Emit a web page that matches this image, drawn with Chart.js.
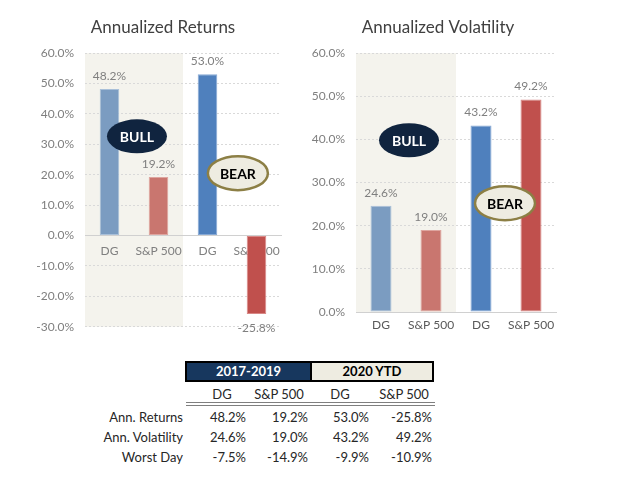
<!DOCTYPE html>
<html>
<head>
<meta charset="utf-8">
<script src="https://cdn.jsdelivr.net/npm/chart.js@4"></script>
<style>
  html, body { margin: 0; padding: 0; background: #ffffff; }
  body { width: 622px; height: 486px; position: relative; overflow: hidden; font-family: Lato, "Open Sans", sans-serif; }
  canvas { position: absolute; top: 0; }
  #c1 { left: 0; }
  #c2 { left: 300px; }
  .t { position: absolute; font-size: 13px; color: #262626; white-space: nowrap; line-height: 16px; }
  .hdr { position: absolute; top: 361px; height: 21px; box-sizing: border-box; border: 2px solid #000; font-weight: bold; font-size: 13px; line-height: 17px; text-align: center; }
  .dbl { position: absolute; left: 186px; width: 249px; height: 1px; background: #7f7f7f; }
</style>
</head>
<body>
<canvas id="c1" width="300" height="345"></canvas>
<canvas id="c2" width="322" height="345"></canvas>
<div id="tbl"></div>
<script>
// ---- data ----
const categories = ['DG', 'S&P 500', 'DG', 'S&P 500'];
const annReturns = [48.2, 19.2, 53.0, -25.8];
const annVolatility = [24.6, 19.0, 43.2, 49.2];
const worstDay = [-7.5, -14.9, -9.9, -10.9];
const periods = ['2017-2019', '2020 YTD'];
const rowLabels = ['Ann. Returns', 'Ann. Volatility', 'Worst Day'];
const returnsTicks = { min: -30, max: 60, step: 10 };
const volTicks = { min: 0, max: 60, step: 10 };

const barColors = ['#7b9cc1', '#c9766f', '#4f80bd', '#c0504d'];
const barBorders = ['#a9c0d9', '#dea59f', '#86a8d4', '#d88886'];
const pct = v => v.toFixed(1) + '%';

// let y tick labels extend left beyond the axis box (avoid label clipping)
const unclipPlugin = {
  id: 'unclip',
  afterLayout(chart) { chart.scales.y.left = 0; }
};

// shaded "bull" region behind first two categories
const shadePlugin = {
  id: 'shade',
  beforeDraw(chart) {
    const {ctx, chartArea, scales: {x}} = chart;
    const x0 = x.getPixelForValue(-0.5), x1 = x.getPixelForValue(1.5);
    ctx.save();
    ctx.fillStyle = '#f4f3ed';
    ctx.fillRect(x0, chartArea.top, x1 - x0, chartArea.bottom - chartArea.top);
    ctx.restore();
  }
};

const valueLabelPlugin = {
  id: 'valueLabels',
  afterDatasetsDraw(chart) {
    const {ctx} = chart;
    const meta = chart.getDatasetMeta(0);
    const data = chart.data.datasets[0].data;
    ctx.save();
    ctx.font = '12px Lato, sans-serif';
    ctx.fillStyle = '#7f7f7f';
    ctx.textAlign = 'center';
    ctx.textBaseline = 'middle';
    meta.data.forEach((el, i) => {
      const v = data[i];
      const y = v >= 0 ? el.y - 13 : el.y + 14;
      ctx.fillText(pct(v), el.x, y);
    });
    ctx.restore();
  }
};

const ellipsePlugin = {
  id: 'ellipses',
  afterDraw(chart, args, opts) {
    const {ctx, scales: {x, y}} = chart;
    (opts.items || []).forEach(it => {
      const cx = x.getPixelForValue(it.at[0]);
      const cy = y.getPixelForValue(it.at[1]);
      ctx.save();
      ctx.beginPath();
      ctx.ellipse(cx, cy, 30, 17, 0, 0, Math.PI * 2);
      ctx.fillStyle = it.fill;
      ctx.fill();
      if (it.stroke) {
        ctx.lineWidth = 2.5;
        ctx.strokeStyle = it.stroke;
        ctx.stroke();
      }
      ctx.font = 'bold 14px Lato, sans-serif';
      ctx.fillStyle = it.color;
      ctx.textAlign = 'center';
      ctx.textBaseline = 'middle';
      ctx.fillText(it.text, cx, cy + 1);
      ctx.restore();
    });
  }
};

function makeChart(id, values, ticks, cfg) {
  return new Chart(document.getElementById(id), {
    type: 'bar',
    data: {
      labels: categories,
      datasets: [{
        data: values,
        backgroundColor: barColors,
        borderColor: barBorders,
        borderWidth: 1,
        borderSkipped: false,
        barPercentage: cfg.barPct,
        categoryPercentage: 1
      }]
    },
    options: {
      responsive: false,
      animation: false,
      devicePixelRatio: 1,
      layout: { padding: cfg.padding },
      plugins: {
        legend: { display: false },
        tooltip: { enabled: false },
        title: {
          display: true,
          text: cfg.title,
          color: '#404040',
          font: { family: 'Lato', size: 17, weight: 'normal' },
          padding: { top: 17.5, bottom: 15.1 }
        },
        ellipses: { items: cfg.ellipses }
      },
      scales: {
        x: {
          position: cfg.xPos,
          z: 1,
          grid: { display: false, drawTicks: false },
          border: { display: true, color: '#d0d0d0', width: 1 },
          ticks: { color: cfg.xColor, font: { family: 'Lato', size: 12 }, padding: cfg.xPad, maxRotation: 0, autoSkip: false },
          afterFit: cfg.xFit
        },
        y: {
          min: ticks.min, max: ticks.max,
          grid: { color: '#d9d9d9', lineWidth: 1, drawTicks: false },
          border: { display: false, dash: [2, 2] },
          ticks: {
            stepSize: ticks.step,
            color: '#7f7f7f',
            font: { family: 'Lato', size: 12 },
            padding: 11,
            callback: v => pct(v)
          },
          afterFit: s => { s.width = cfg.yWidth; }
        }
      }
    },
    plugins: [unclipPlugin, shadePlugin, valueLabelPlugin, ellipsePlugin]
  });
}

makeChart('c1', annReturns, returnsTicks, {
  title: 'Annualized Returns',
  padding: { left: 45, right: 19, top: 0, bottom: 16 },
  yWidth: 40,
  barPct: 0.4,
  xPos: { y: 0 },
  xPad: 8,
  xColor: '#7f7f7f',
  xFit: undefined,
  ellipses: [
    { text: 'BULL', at: [0.56, 32.6], fill: '#10243f', color: '#ffffff' },
    { text: 'BEAR', at: [2.62, 20.5], fill: '#eeece1', stroke: '#8c7f45', color: '#000000' }
  ]
});

makeChart('c2', annVolatility, volTicks, {
  title: 'Annualized Volatility',
  padding: { left: 20, right: 66, top: 0, bottom: 11 },
  yWidth: 36,
  barPct: 0.42,
  xPos: 'bottom',
  xPad: 6,
  xColor: '#595959',
  xFit: s => { s.height = 22; },
  ellipses: [
    { text: 'BULL', at: [0.56, 39.8], fill: '#10243f', color: '#ffffff' },
    { text: 'BEAR', at: [2.48, 25.2], fill: '#eeece1', stroke: '#8c7f45', color: '#000000' }
  ]
});

// ---- table ----
(function buildTable() {
  const tbl = document.getElementById('tbl');
  const add = (html) => { tbl.insertAdjacentHTML('beforeend', html); };
  add(`<div class="hdr" style="left:185px;width:127px;background:#17375e;color:#fff;">${periods[0]}</div>`);
  add(`<div class="hdr" style="left:310px;width:124px;background:#eeece1;color:#000;">${periods[1]}</div>`);
  const colCenters = [222, 279, 340, 404];
  categories.forEach((c, i) => {
    add(`<div class="t" style="left:${colCenters[i] - 40}px;width:80px;text-align:center;top:386px;">${c}</div>`);
  });
  add(`<div class="dbl" style="top:402px;"></div>`);
  add(`<div class="dbl" style="top:405px;"></div>`);
  const rows = [annReturns, annVolatility, worstDay];
  const rowTops = [409, 429, 449];
  const colRights = [246, 308, 369, 432];
  rows.forEach((r, ri) => {
    add(`<div class="t" style="left:63px;width:120px;text-align:right;top:${rowTops[ri]}px;">${rowLabels[ri]}</div>`);
    r.forEach((v, ci) => {
      add(`<div class="t" style="left:${colRights[ci] - 60}px;width:60px;text-align:right;top:${rowTops[ri]}px;">${pct(v)}</div>`);
    });
  });
})();
</script>
</body>
</html>
